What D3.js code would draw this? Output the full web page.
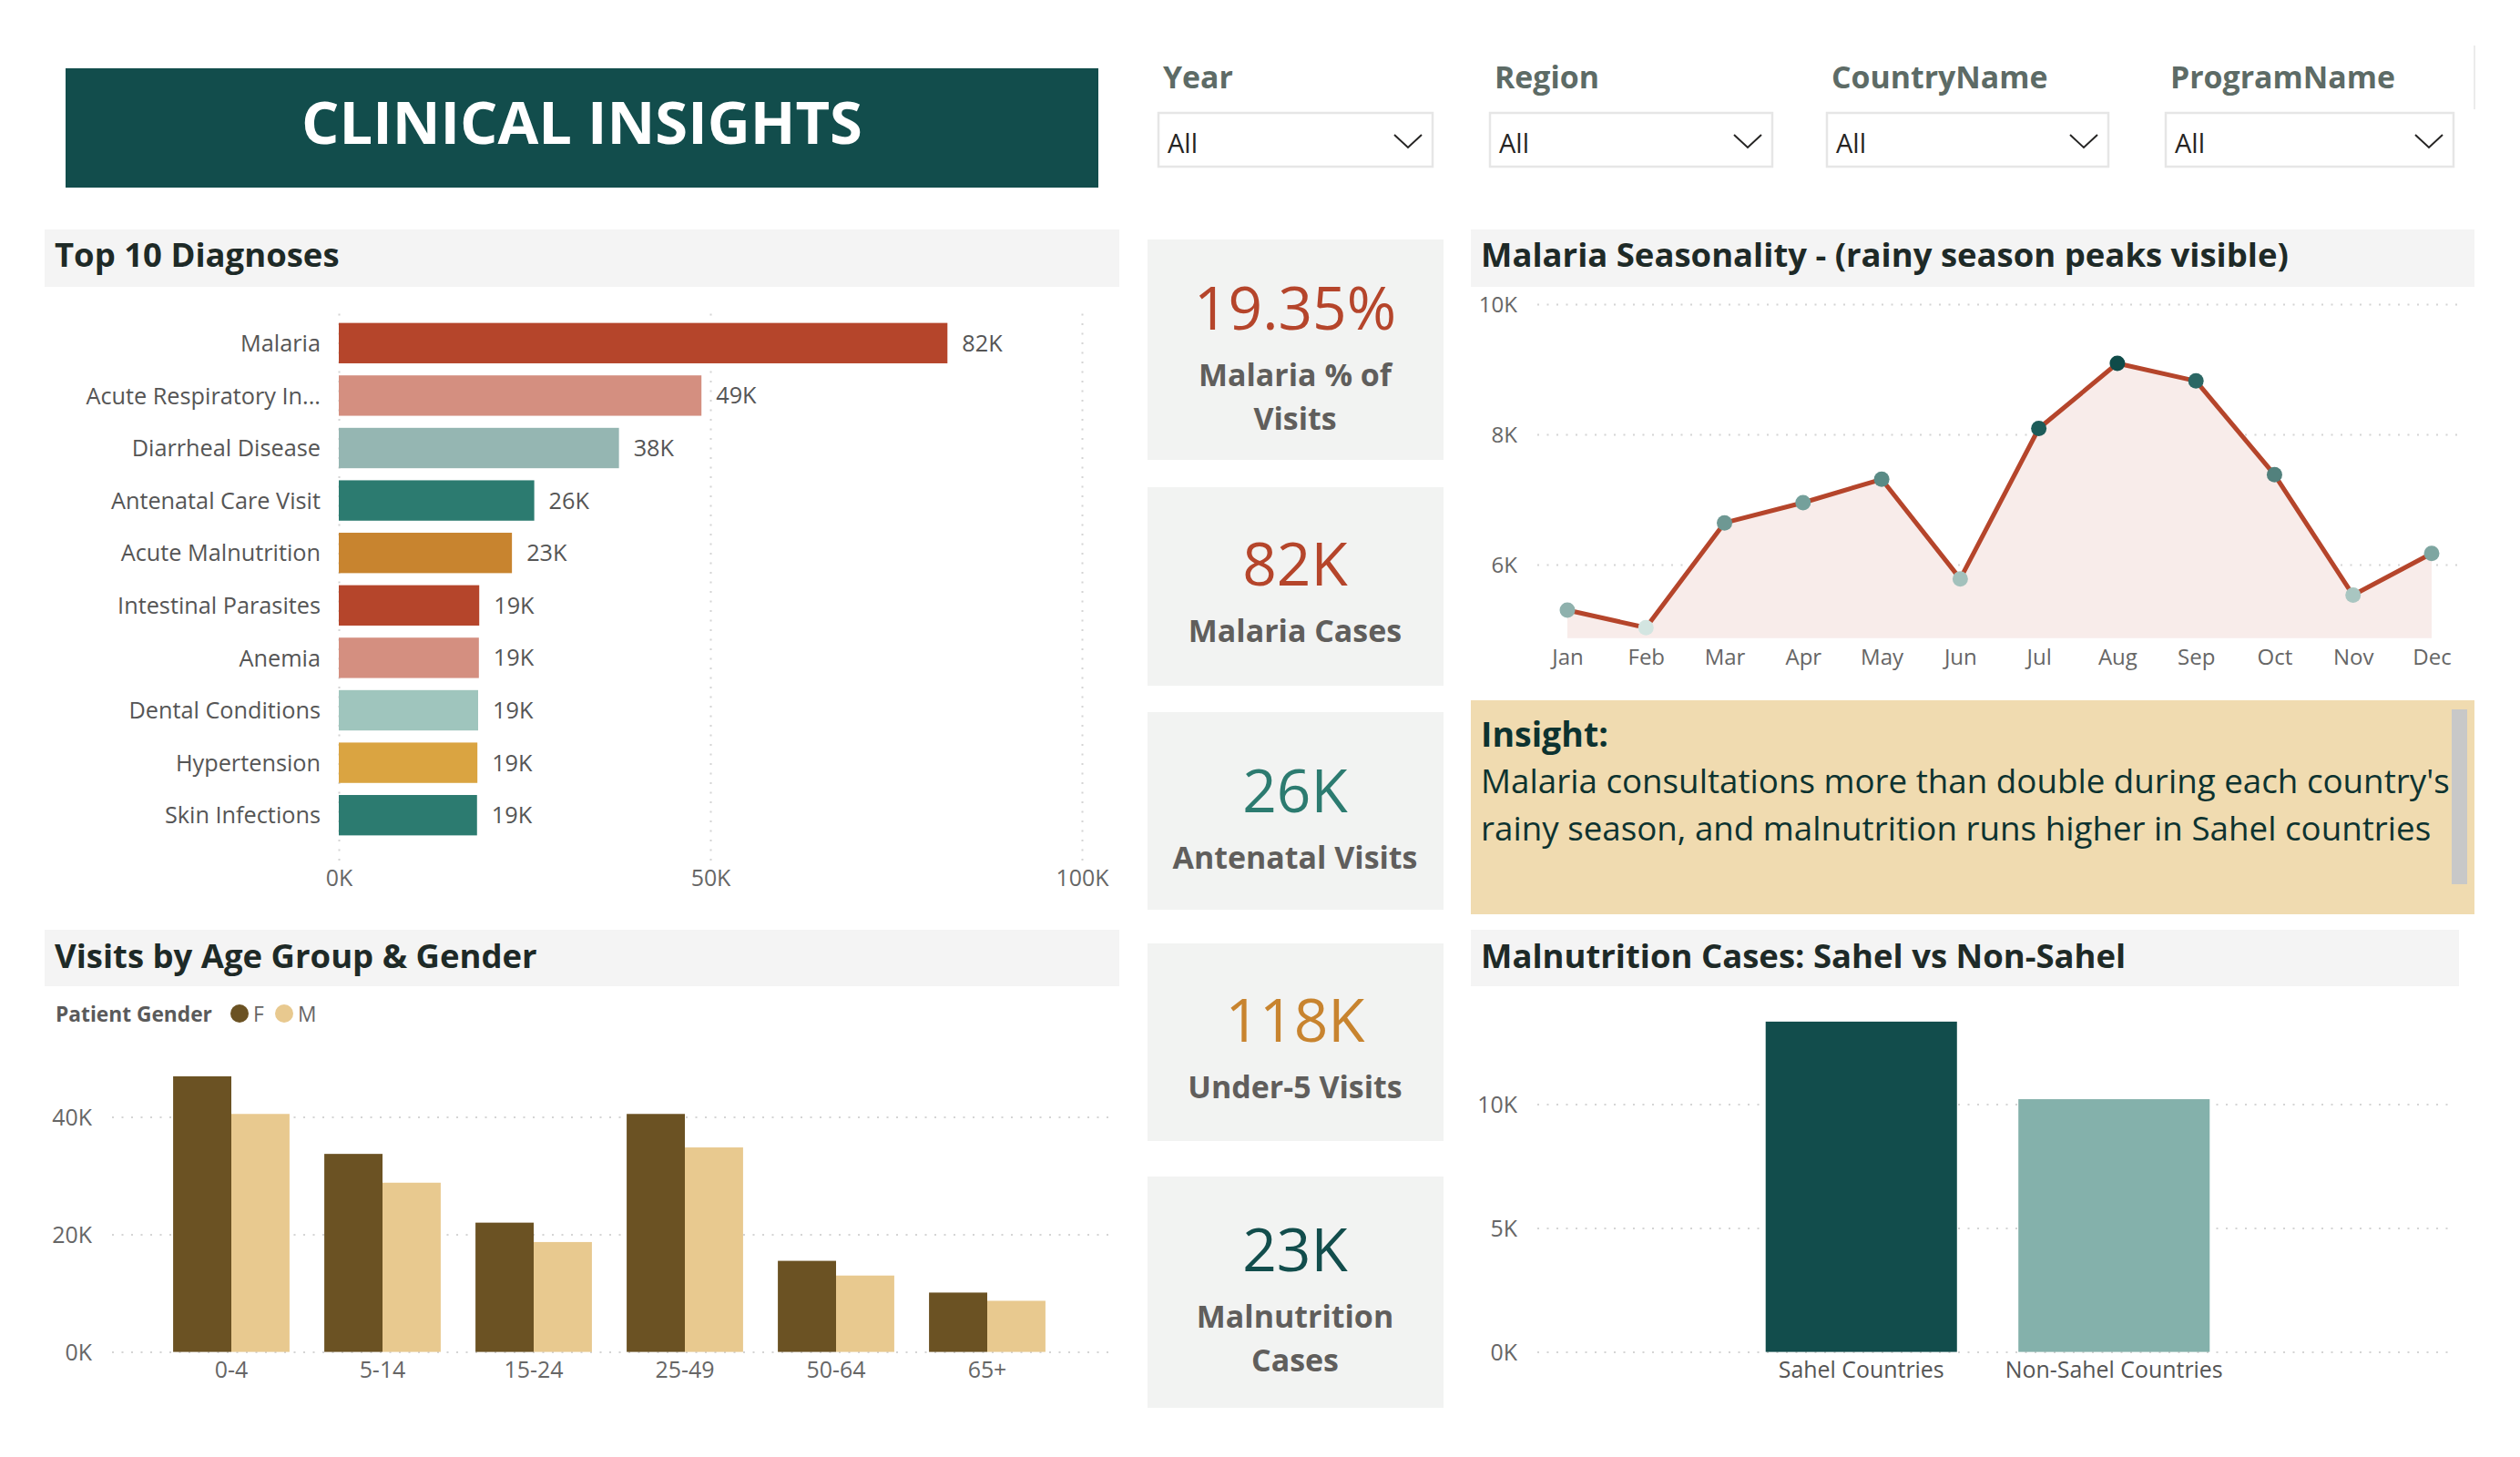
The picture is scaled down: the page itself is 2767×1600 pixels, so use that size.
<!DOCTYPE html>
<html><head><meta charset="utf-8">
<script src="https://cdn.jsdelivr.net/npm/d3@7"></script>
<style>
body{margin:0;background:#fff;}
svg{display:block;font-family:"Segoe UI","Open Sans",sans-serif;}
</style>
</head><body>
<svg id="c" width="2767" height="1600"></svg>
<script>
// ---------------- DATA ----------------
const slicerNames = ["Year","Region","CountryName","ProgramName"];
const slicerValues = ["All","All","All","All"];

const diagnoses = ["Malaria","Acute Respiratory In...","Diarrheal Disease","Antenatal Care Visit","Acute Malnutrition","Intestinal Parasites","Anemia","Dental Conditions","Hypertension","Skin Infections"];
const diagnosisCounts = [81900,48800,37700,26300,23300,18900,18850,18750,18650,18600];
const diagnosisColors = ["#b5452b","#d48f80","#95b6b2","#2c7b70","#c8842f","#b5452b","#d48f80","#9fc5bd","#daa441","#2c7b70"];
const diagnosisTicks = [0,50000,100000];

const kpiValues = ["19.35%","82K","26K","118K","23K"];
const kpiLabels = [["Malaria % of","Visits"],["Malaria Cases"],["Antenatal Visits"],["Under-5 Visits"],["Malnutrition","Cases"]];
const kpiColors = ["#b5452b","#b5452b","#2c7b70","#c8842f","#124d4c"];

const months = ["Jan","Feb","Mar","Apr","May","Jun","Jul","Aug","Sep","Oct","Nov","Dec"];
const malariaMonthly = [5300,5030,6640,6950,7310,5780,8090,9090,8820,7380,5530,6170];
const monthDotColors = ["#8fb1ad","#d3e5e1","#6e9893","#74a09b","#5a8b86","#a3c1bc","#1d5c59","#0f4b49","#2b6764","#52817d","#a9c6c1","#7ea6a1"];
const seasonTicks = [6000,8000,10000];

const insightTitle = "Insight:";
const insightLines = ["Malaria consultations more than double during each country's","rainy season, and malnutrition runs higher in Sahel countries"];

const ageGroups = ["0-4","5-14","15-24","25-49","50-64","65+"];
const genders = ["F","M"];
const visitsF = [46900,33700,22000,40500,15500,10100];
const visitsM = [40500,28800,18700,34800,13000,8700];
const genderColors = ["#6b5223","#e8c98f"];
const ageTicks = [0,20000,40000];

const sahelGroups = ["Sahel Countries","Non-Sahel Countries"];
const malnutritionCases = [13330,10200];
const sahelColors = ["#124d4c","#84b1ab"];
const sahelTicks = [0,5000,10000];

// ---------------- HELPERS ----------------
const svg = d3.select("#c");
svg.append("rect").attr("width",2767).attr("height",1600).attr("fill","#fff");
const FONT = '"Segoe UI","Open Sans",sans-serif';

function sizeFor(str, weight, target){
  const t = svg.append("text").attr("font-size",40).attr("font-weight",weight).attr("font-family",FONT).text(str);
  const w = t.node().getComputedTextLength(); t.remove();
  return 40*target/w;
}
const fmtTick = v => (v/1000)+"K";
const fmtVal = v => Math.round(v/1000)+"K";
const GRID = "#d4d4d4";
const TICKC = "#666";

// ---------------- TITLE ----------------
svg.append("rect").attr("x",72).attr("y",75).attr("width",1134).attr("height",131).attr("fill","#124d4c");
svg.append("text").attr("x",639).attr("y",158).attr("text-anchor","middle")
  .attr("font-size",sizeFor("CLINICAL INSIGHTS",700,616)).attr("font-weight",700).attr("fill","#fff").text("CLINICAL INSIGHTS");

// ---------------- SLICERS ----------------
const slicerX = [1271,1635,2005,2377];
const slicerW = [303,312,311,318];
const slFS = sizeFor("ProgramName",700,247);
const allFS = sizeFor("All",400,33);
slicerNames.forEach((n,i)=>{
  const g = svg.append("g");
  g.append("text").attr("x",slicerX[i]+6).attr("y",97).attr("font-size",slFS).attr("font-weight",700).attr("fill","#5d6b66").text(n);
  g.append("rect").attr("x",slicerX[i]+1).attr("y",124).attr("width",slicerW[i]-2).attr("height",59)
    .attr("fill","#fff").attr("stroke","#e6e6e6").attr("stroke-width",2.5);
  g.append("text").attr("x",slicerX[i]+11).attr("y",168).attr("font-size",allFS).attr("fill","#252423").text(slicerValues[i]);
  const r = slicerX[i]+slicerW[i];
  g.append("polyline").attr("points",`${r-43},148 ${r-28},162 ${r-13},148`).attr("fill","none").attr("stroke","#252423").attr("stroke-width",2);
});
svg.append("line").attr("x1",2717).attr("x2",2717).attr("y1",50).attr("y2",120).attr("stroke","#ececec").attr("stroke-width",2);

// ---------------- PANEL HEADERS ----------------
const headers = [
  {x:49,y:252,w:1180,h:63,b:293,t:"Top 10 Diagnoses"},
  {x:1615,y:252,w:1102,h:63,b:293,t:"Malaria Seasonality - (rainy season peaks visible)"},
  {x:49,y:1021,w:1180,h:62,b:1063,t:"Visits by Age Group & Gender"},
  {x:1615,y:1021,w:1085,h:62,b:1063,t:"Malnutrition Cases: Sahel vs Non-Sahel"}
];
const hFS = sizeFor("Malaria Seasonality - (rainy season peaks visible)",700,887);
headers.forEach(h=>{
  svg.append("rect").attr("x",h.x).attr("y",h.y).attr("width",h.w).attr("height",h.h).attr("fill","#f4f4f4");
  svg.append("text").attr("x",h.x+11).attr("y",h.b).attr("font-size",hFS).attr("font-weight",700).attr("fill","#1e2a27").text(h.t);
});

// ---------------- TOP 10 DIAGNOSES ----------------
{
  const x = d3.scaleLinear().domain([0,100000]).range([372,1188]);
  const y = d3.scaleBand().domain(diagnoses).range([348,924]).paddingInner(0.23).paddingOuter(0.115);
  const labFS = sizeFor("Intestinal Parasites",400,223);
  const tickFS = sizeFor("100K",400,58);
  const grid = svg.append("g").attr("transform","translate(0,945)")
    .call(d3.axisBottom(x).tickValues(diagnosisTicks).tickSize(-608).tickFormat(""));
  grid.select(".domain").remove();
  grid.selectAll("line").attr("stroke",GRID).attr("stroke-width",2).attr("stroke-dasharray","2,8.5");
  const ax = svg.append("g").attr("transform","translate(0,952)")
    .call(d3.axisBottom(x).tickValues(diagnosisTicks).tickSize(0).tickFormat(fmtTick));
  ax.select(".domain").remove();
  ax.selectAll("text").attr("font-size",tickFS).attr("font-family",FONT).attr("fill",TICKC).attr("y",0).attr("dy","0.85em");
  const ay = svg.append("g").attr("transform","translate(372,0)")
    .call(d3.axisLeft(y).tickSize(0).tickPadding(20));
  ay.select(".domain").remove();
  ay.selectAll("text").attr("font-size",labFS).attr("font-family",FONT).attr("fill","#555").attr("dy","0.36em");
  svg.append("g").selectAll("rect").data(diagnoses).join("rect")
    .attr("x",x(0)).attr("y",d=>y(d)).attr("height",y.bandwidth())
    .attr("width",(d,i)=>x(diagnosisCounts[i])-x(0)).attr("fill",(d,i)=>diagnosisColors[i]);
  svg.append("g").selectAll("text").data(diagnoses).join("text")
    .attr("x",(d,i)=>x(diagnosisCounts[i])+16).attr("y",d=>y(d)+y.bandwidth()/2).attr("dy","0.36em")
    .attr("font-size",labFS).attr("fill","#555").text((d,i)=>fmtVal(diagnosisCounts[i]));
}

// ---------------- KPI CARDS ----------------
{
  const cardY = [263,535,782,1036,1292];
  const cardH = [242,218,217,217,254];
  const valBase = [362,643,892,1144,1396];
  const valFS = sizeFor("19.35%",400,222);
  const labFS = sizeFor("Antenatal Visits",700,269);
  kpiValues.forEach((v,i)=>{
    svg.append("rect").attr("x",1260).attr("y",cardY[i]).attr("width",325).attr("height",cardH[i]).attr("fill","#f2f3f2");
    svg.append("text").attr("x",1422).attr("y",valBase[i]).attr("text-anchor","middle")
      .attr("font-size",valFS).attr("fill",kpiColors[i]).text(v);
    kpiLabels[i].forEach((l,j)=>{
      svg.append("text").attr("x",1422).attr("y",valBase[i]+62+j*48).attr("text-anchor","middle")
        .attr("font-size",labFS).attr("font-weight",700).attr("fill","#605e5c").text(l);
    });
  });
}

// ---------------- MALARIA SEASONALITY ----------------
{
  const x = d3.scalePoint().domain(months).range([1721,2670]);
  const y = d3.scaleLinear().domain([4870,10000]).range([700.7,334]);
  const tickFS = sizeFor("Aug",400,43);
  const grid = svg.append("g").attr("transform","translate(1688,0)")
    .call(d3.axisLeft(y).tickValues(seasonTicks).tickSize(-1012).tickFormat(""));
  grid.select(".domain").remove();
  grid.selectAll("line").attr("stroke",GRID).attr("stroke-width",2).attr("stroke-dasharray","2,8.5");
  const ay = svg.append("g").attr("transform","translate(1688,0)")
    .call(d3.axisLeft(y).tickValues(seasonTicks).tickSize(0).tickPadding(22).tickFormat(fmtTick));
  ay.select(".domain").remove();
  ay.selectAll("text").attr("font-size",tickFS).attr("font-family",FONT).attr("fill",TICKC).attr("dy","0.36em");
  const ax = svg.append("g").attr("transform","translate(0,710)")
    .call(d3.axisBottom(x).tickSize(0).tickFormat(d=>d));
  ax.select(".domain").remove();
  ax.selectAll("text").attr("font-size",tickFS).attr("font-family",FONT).attr("fill",TICKC).attr("y",0).attr("dy","0.85em");
  const data = months.map((m,i)=>({m,v:malariaMonthly[i],c:monthDotColors[i]}));
  svg.append("path").datum(data).attr("fill","#f8ecea")
    .attr("d",d3.area().x(d=>x(d.m)).y0(y(4870)).y1(d=>y(d.v)));
  svg.append("path").datum(data).attr("fill","none").attr("stroke","#b5452b").attr("stroke-width",5).attr("stroke-linejoin","round")
    .attr("d",d3.line().x(d=>x(d.m)).y(d=>y(d.v)));
  svg.append("g").selectAll("circle").data(data).join("circle")
    .attr("cx",d=>x(d.m)).attr("cy",d=>y(d.v)).attr("r",8.5).attr("fill",d=>d.c);
}

// ---------------- INSIGHT ----------------
{
  svg.append("rect").attr("x",1615).attr("y",769).attr("width",1102).attr("height",235).attr("fill","#f0dbb0");
  svg.append("rect").attr("x",2692).attr("y",779).attr("width",17).attr("height",192).attr("fill","#c8c8c8");
  const tFS = sizeFor(insightLines[0],400,1064);
  svg.append("text").attr("x",1626).attr("y",820).attr("font-size",tFS*1.02).attr("font-weight",700).attr("fill","#0d3330").text(insightTitle);
  insightLines.forEach((l,i)=>{
    svg.append("text").attr("x",1626).attr("y",871+i*52).attr("font-size",tFS).attr("fill","#0d3330").text(l);
  });
}

// ---------------- VISITS BY AGE GROUP & GENDER ----------------
{
  const x0 = d3.scaleBand().domain(ageGroups).range([171,1167]).paddingInner(0.23).paddingOuter(0.115);
  const x1 = d3.scaleBand().domain(genders).range([0,x0.bandwidth()]);
  const y = d3.scaleLinear().domain([0,40000]).range([1484.6,1226.5]);
  const tickFS = sizeFor("100K",400,58);
  const grid = svg.append("g").attr("transform","translate(123,0)")
    .call(d3.axisLeft(y).tickValues(ageTicks).tickSize(-1095).tickFormat(""));
  grid.select(".domain").remove();
  grid.selectAll("line").attr("stroke",GRID).attr("stroke-width",2).attr("stroke-dasharray","2,8.5");
  const ay = svg.append("g").attr("transform","translate(123,0)")
    .call(d3.axisLeft(y).tickValues(ageTicks).tickSize(0).tickPadding(22).tickFormat(fmtTick));
  ay.select(".domain").remove();
  ay.selectAll("text").attr("font-size",tickFS).attr("font-family",FONT).attr("fill",TICKC).attr("dy","0.36em");
  const ax = svg.append("g").attr("transform","translate(0,1492)")
    .call(d3.axisBottom(x0).tickSize(0).tickFormat(d=>d));
  ax.select(".domain").remove();
  ax.selectAll("text").attr("font-size",tickFS).attr("font-family",FONT).attr("fill",TICKC).attr("y",0).attr("dy","0.85em");
  const series = [visitsF, visitsM];
  genders.forEach((g,gi)=>{
    svg.append("g").selectAll("rect").data(ageGroups).join("rect")
      .attr("x",d=>x0(d)+x1(g)).attr("width",x1.bandwidth())
      .attr("y",(d,i)=>y(series[gi][i])).attr("height",(d,i)=>y(0)-y(series[gi][i]))
      .attr("fill",genderColors[gi]);
  });
  const lgFS = sizeFor("Patient Gender",700,172);
  svg.append("text").attr("x",61).attr("y",1122).attr("font-size",lgFS).attr("font-weight",700).attr("fill","#5a5a5a").text("Patient Gender");
  const lx = [263,312];
  genders.forEach((g,gi)=>{
    svg.append("circle").attr("cx",lx[gi]).attr("cy",1113).attr("r",10).attr("fill",genderColors[gi]);
    svg.append("text").attr("x",lx[gi]+15).attr("y",1122).attr("font-size",lgFS).attr("fill","#666").text(g);
  });
}

// ---------------- MALNUTRITION SAHEL ----------------
{
  const x = d3.scaleBand().domain(sahelGroups).range([1905,2460]).paddingInner(0.243).paddingOuter(0.1215);
  const y = d3.scaleLinear().domain([0,10000]).range([1484.6,1212.5]);
  const tickFS = sizeFor("100K",400,58);
  const grid = svg.append("g").attr("transform","translate(1688,0)")
    .call(d3.axisLeft(y).tickValues(sahelTicks).tickSize(-1000).tickFormat(""));
  grid.select(".domain").remove();
  grid.selectAll("line").attr("stroke",GRID).attr("stroke-width",2).attr("stroke-dasharray","2,8.5");
  const ay = svg.append("g").attr("transform","translate(1688,0)")
    .call(d3.axisLeft(y).tickValues(sahelTicks).tickSize(0).tickPadding(22).tickFormat(fmtTick));
  ay.select(".domain").remove();
  ay.selectAll("text").attr("font-size",tickFS).attr("font-family",FONT).attr("fill",TICKC).attr("dy","0.36em");
  const ax = svg.append("g").attr("transform","translate(0,1492)")
    .call(d3.axisBottom(x).tickSize(0).tickFormat(d=>d));
  ax.select(".domain").remove();
  ax.selectAll("text").attr("font-size",tickFS).attr("font-family",FONT).attr("fill","#555").attr("y",0).attr("dy","0.85em");
  svg.append("g").selectAll("rect").data(sahelGroups).join("rect")
    .attr("x",d=>x(d)).attr("width",x.bandwidth())
    .attr("y",(d,i)=>y(malnutritionCases[i])).attr("height",(d,i)=>y(0)-y(malnutritionCases[i]))
    .attr("fill",(d,i)=>sahelColors[i]);
}
</script>
</body></html>
